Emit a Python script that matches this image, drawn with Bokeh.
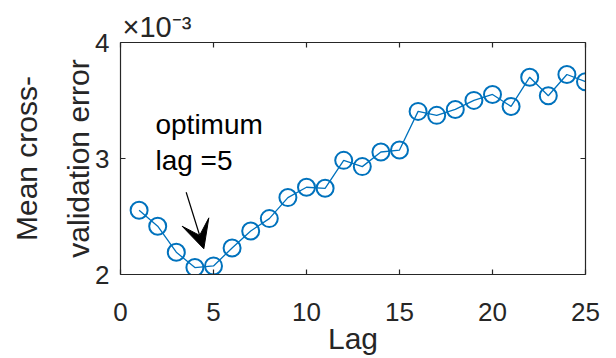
import numpy as np
from bokeh.plotting import figure
from bokeh.models import Range1d, LinearAxis, FixedTicker, Label, Arrow, VeeHead, Title
from bokeh.embed import file_html
from bokeh.resources import INLINE

# ---- data ----
lags = [1, 2, 3, 4, 5, 6, 7, 8, 9, 10, 11, 12, 13, 14, 15, 16, 17, 18, 19, 20, 21, 22, 23, 24, 25]
cv_error_e3 = [2.554, 2.416, 2.192, 2.060, 2.074, 2.229, 2.375, 2.482, 2.663, 2.752, 2.743,
               2.984, 2.930, 3.056, 3.073, 3.406, 3.372, 3.423, 3.501, 3.552, 3.449, 3.701,
               3.541, 3.724, 3.662]
x_ticks = [0, 5, 10, 15, 20, 25]
y_ticks = [2, 3, 4]

FONT = "Liberation Sans"
AX = "#262626"
BLUE = "#0072BD"

p = figure(width=616, height=358, output_backend="svg", toolbar_location=None,
           x_range=Range1d(0, 25), y_range=Range1d(2, 4),
           min_border_left=120, min_border_right=31, min_border_top=42, min_border_bottom=84,
           x_axis_label="Lag", y_axis_label="validation error")
p.outline_line_color = None
p.xgrid.visible = False
p.ygrid.visible = False
p.background_fill_color = "white"
p.border_fill_color = "white"

def style_axis(ax, ticks, labels=True):
    ax.ticker = FixedTicker(ticks=ticks)
    ax.axis_line_color = AX
    ax.axis_line_width = 1.2
    ax.major_tick_line_color = AX
    ax.major_tick_line_width = 1.2
    ax.major_tick_in = 5
    ax.major_tick_out = 0
    ax.minor_tick_line_color = None
    ax.major_label_text_font = FONT
    ax.major_label_text_font_size = "26px"
    ax.major_label_text_color = AX if labels else None
    ax.axis_label_text_font = FONT
    ax.axis_label_text_font_size = "30px"
    ax.axis_label_text_font_style = "normal"
    ax.axis_label_text_color = AX

style_axis(p.xaxis[0], x_ticks)
style_axis(p.yaxis[0], y_ticks)
p.xaxis[0].major_label_standoff = 28
p.xaxis[0].axis_label_standoff = -2
p.yaxis[0].major_label_standoff = 11
p.yaxis[0].axis_label_standoff = -3

# outer line of the two-line y label
outer = LinearAxis(axis_label="Mean cross-")
outer.ticker = FixedTicker(ticks=[])
outer.axis_line_color = None
outer.major_tick_line_color = None
outer.minor_tick_line_color = None
outer.major_label_text_font_size = "1px"
outer.major_label_standoff = 0
outer.axis_label_text_font = FONT
outer.axis_label_text_font_size = "30px"
outer.axis_label_text_font_style = "normal"
outer.axis_label_text_color = AX
outer.axis_label_standoff = 17
p.add_layout(outer, "left")

top = LinearAxis()
right = LinearAxis()
style_axis(top, x_ticks, labels=False)
style_axis(right, y_ticks, labels=False)
p.add_layout(top, "above")
p.add_layout(right, "right")
for a in (top, right):
    a.major_label_text_font_size = "1px"
    a.major_label_standoff = 0

# exponent of the y axis
p.title = Title(text="\u00d710\u207b\u00b3", align="left", offset=2, standoff=0,
                text_font=FONT, text_font_size="29px", text_font_style="normal",
                text_color=AX)

p.line(lags, cv_error_e3, line_color=BLUE, line_width=1.3)
p.scatter(lags, cv_error_e3, marker="circle", size=17, fill_color=None,
          line_color=BLUE, line_width=2)

# annotation
p.add_layout(Label(x=1.88, y=3.29, text="optimum", text_align="left",
                   text_baseline="alphabetic", text_font=FONT,
                   text_font_size="28px", text_color="black"))
p.add_layout(Label(x=1.88, y=2.985, text="lag =5", text_align="left",
                   text_baseline="alphabetic", text_font=FONT,
                   text_font_size="28px", text_color="black"))
p.add_layout(Arrow(x_start=3.53, y_start=2.709, x_end=4.48, y_end=2.222,
                   line_color="black", line_width=1.2,
                   end=VeeHead(size=28, fill_color="black", line_color="black", line_width=1)))

open("out.html", "w").write(file_html(p, INLINE))
